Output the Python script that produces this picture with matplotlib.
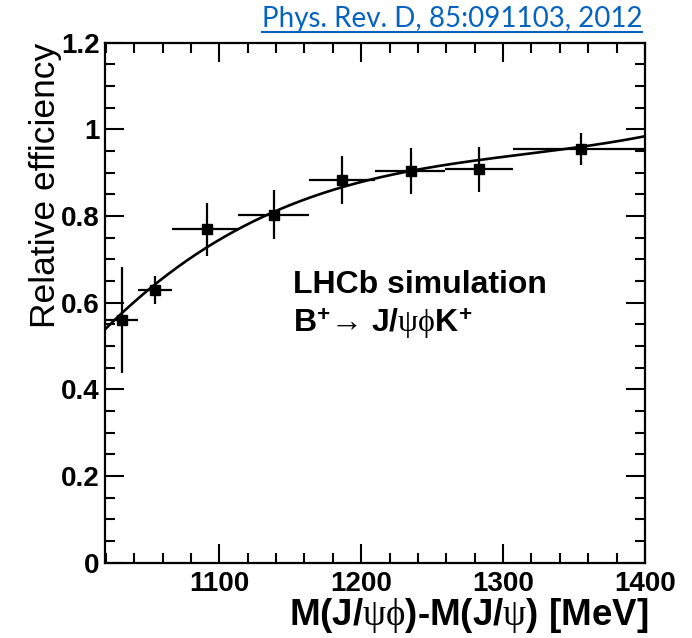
import numpy as np
import matplotlib
matplotlib.use("Agg")
import matplotlib.pyplot as plt
from matplotlib.ticker import MultipleLocator, FixedLocator, FixedFormatter
from matplotlib.lines import Line2D

# Measured relative efficiency per bin of M(J/psi phi) - M(J/psi) [MeV]
x_points = [1031.2, 1054.7, 1091.1, 1138.5, 1186.7, 1234.9, 1283.3, 1354.7]
bin_lo = [1020.0, 1043.0, 1067.0, 1113.0, 1163.0, 1210.0, 1259.0, 1307.0]
bin_hi = [1043.0, 1067.0, 1113.0, 1163.0, 1210.0, 1259.0, 1307.0, 1400.0]
eff = [0.560, 0.629, 0.769, 0.803, 0.883, 0.904, 0.908, 0.954]
eff_err = [0.122, 0.032, 0.062, 0.057, 0.056, 0.053, 0.052, 0.037]

# Third-order polynomial fit in u = (x - 1200) / 100
fit_coeffs = [0.010892, -0.03779, 0.08475, 0.87851]  # highest power first
fit_range = (1020.0, 1400.0)

x_min, x_max = 1019.46, 1400.0
y_min, y_max = 0.0, 1.2
y_tick_values = [0.0, 0.2, 0.4, 0.6, 0.8, 1.0, 1.2]
y_tick_labels = ["0", "0.2", "0.4", "0.6", "0.8", "1", "1.2"]
x_tick_values = [1100, 1200, 1300, 1400]
x_tick_labels = ["1100", "1200", "1300", "1400"]

plt.rcParams["font.family"] = ["Liberation Sans", "DejaVu Sans"]
plt.rcParams["mathtext.fontset"] = "custom"
plt.rcParams["mathtext.rm"] = "Liberation Serif"
plt.rcParams["mathtext.it"] = "Liberation Serif:italic"
plt.rcParams["mathtext.bf"] = "Liberation Sans:bold"
plt.rcParams["mathtext.sf"] = "Liberation Sans"

fig = plt.figure(figsize=(6.92, 6.38), dpi=100)
ax = fig.add_axes([105 / 692, 1 - 562.7 / 638, 540 / 692, (562.7 - 42.6) / 638])

# Data points with bin-width horizontal bars
xp = np.array(x_points)
xerr = [xp - np.array(bin_lo), np.array(bin_hi) - xp]
ax.errorbar(xp, eff, xerr=xerr, yerr=eff_err, fmt="s", color="black",
            markersize=7.5, elinewidth=1.6, capsize=0, zorder=3)

# Fit curve
xf = np.linspace(fit_range[0], fit_range[1], 400)
yf = np.polyval(fit_coeffs, (xf - 1200.0) / 100.0)
ax.plot(xf, yf, color="black", linewidth=1.9, zorder=2)

ax.set_xlim(x_min, x_max)
ax.set_ylim(y_min, y_max)

ax.xaxis.set_major_locator(FixedLocator(x_tick_values))
ax.xaxis.set_major_formatter(FixedFormatter(x_tick_labels))
ax.xaxis.set_minor_locator(MultipleLocator(20))
ax.yaxis.set_major_locator(FixedLocator(y_tick_values))
ax.yaxis.set_major_formatter(FixedFormatter(y_tick_labels))
ax.yaxis.set_minor_locator(MultipleLocator(0.05))

ax.tick_params(which="both", direction="in", top=True, right=True, width=1.5)
ax.tick_params(which="major", length=14)
ax.tick_params(which="minor", length=7)
ax.tick_params(axis="x", which="major", pad=6, labelsize=20)
ax.tick_params(axis="y", which="major", pad=4, labelsize=20)
for lab in ax.get_xticklabels() + ax.get_yticklabels():
    lab.set_fontweight("bold")
for sp in ax.spines.values():
    sp.set_linewidth(1.6)

ax.set_xlabel(r"M(J/$\mathrm{\psi\phi}$)-M(J/$\mathrm{\psi}$) [MeV]",
              fontsize=26.5, fontweight="bold", loc="right")
ax.xaxis.set_label_coords(1.006, -0.064)
ax.set_ylabel("Relative efficiency", fontsize=25.5, loc="top")
ax.yaxis.set_label_coords(-0.080, 1.0)

ax.text(0.348, 0.534, "LHCb simulation", transform=ax.transAxes,
        fontsize=23, fontweight="bold", va="center", ha="left")
ax.text(0.348, 0.460,
        r"B$^{\mathbf{+}}$→ J/$\mathrm{\psi\phi}$K$^{\mathbf{+}}$",
        transform=ax.transAxes, fontsize=23, fontweight="bold",
        va="center", ha="left")

# Reference link in the top right corner, underlined
link = fig.text(642 / 692, 1 - 27 / 638, "Phys. Rev. D, 85:091103, 2012",
                color="#0563C1", fontsize=20, family=["Lato", "DejaVu Sans"],
                ha="right", va="baseline")
fig.canvas.draw()
bb = link.get_window_extent().transformed(fig.transFigure.inverted())
y_ul = 1 - 32 / 638
fig.add_artist(Line2D([bb.x0, bb.x1], [y_ul, y_ul],
                      transform=fig.transFigure, color="#0563C1", linewidth=1.5))

fig.savefig("out.png", dpi=100)
